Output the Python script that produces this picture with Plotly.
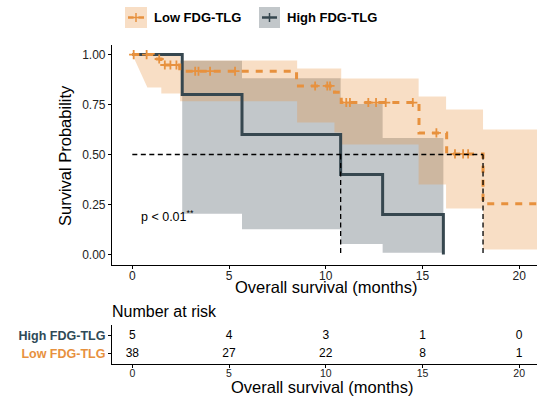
import numpy as np
import plotly.graph_objects as go

# ---------------- data ----------------
low_t = [0.0, 1.08, 1.48, 2.45, 8.49, 10.45, 10.80, 14.82, 16.25, 18.13, 21.0]
low_s = [1.0, 0.978, 0.948, 0.917, 0.843, 0.812, 0.760, 0.608, 0.503, 0.254, 0.254]
low_censor_t = [0.07, 0.74, 1.39, 1.68, 1.97, 2.28, 3.25, 3.42, 4.02, 5.31,
                9.45, 10.08, 10.22, 11.06, 11.25, 12.2, 12.6, 13.1, 14.5,
                15.72, 16.68, 17.1, 17.36]

high_t = [0.0, 2.58, 5.67, 10.77, 12.94, 16.08]
high_s = [1.0, 0.8, 0.6, 0.4, 0.2, 0.0]

low_ci_t = [0.78, 1.50, 2.47, 8.52, 10.45, 10.80, 14.80, 16.22, 18.13]
low_ci_hi = [1.00, 1.00, 0.97, 0.93, 0.93, 0.88, 0.79, 0.725, 0.625]
low_ci_lo = [0.835, 0.805, 0.767, 0.66, 0.61, 0.55, 0.35, 0.23, 0.025]
low_ci_end = 21.0

high_ci_t = [2.58, 5.67, 10.77, 12.94]
high_ci_hi = [0.969, 0.882, 0.753, 0.583]
high_ci_lo = [0.204, 0.126, 0.052, 0.008]
high_ci_end = 16.08

risk_times = [0, 5, 10, 15, 20]
risk_high = [5, 4, 3, 1, 0]
risk_low = [38, 27, 22, 8, 1]
groups = ["Low FDG-TLG", "High FDG-TLG"]
p_text = "p < 0.01<sup>**</sup>"

# ---------------- style ----------------
ORANGE = "#E7913E"
DARK = "#36474F"
FONT = "Liberation Sans, Arial, sans-serif"
W, H = 537, 398
ML, MR, MT, MB = 112, 0, 45, 34


def px_x(px):
    return (px - ML) / (W - ML - MR)


def px_y(py):
    return (H - MB - py) / (H - MT - MB)


def step_poly(t, lo, hi, t_end, start=None):
    xs, ys = [], []
    if start is not None:
        xs.append(start[0]); ys.append(start[1])
    tt = list(t) + [t_end]
    for i in range(len(t)):
        xs += [tt[i], tt[i + 1]]
        ys += [hi[i], hi[i]]
    for i in reversed(range(len(t))):
        xs += [tt[i + 1], tt[i]]
        ys += [lo[i], lo[i]]
    if start is not None:
        xs.append(start[0]); ys.append(start[1])
    return xs, ys


def surv_at(t_arr, s_arr, x):
    idx = np.searchsorted(np.array(t_arr), np.array(x), side="right") - 1
    return [s_arr[i] for i in idx]


def median(t_arr, s_arr):
    for t, s in zip(t_arr, s_arr):
        if s < 0.5:
            return t
    return None


fig = go.Figure()

# CI ribbons (High first, Low on top)
hx, hy = step_poly(high_ci_t, high_ci_lo, high_ci_hi, high_ci_end)
fig.add_trace(go.Scatter(x=hx, y=hy, fill="toself", mode="lines", line=dict(width=0),
                         fillcolor="rgba(54,71,79,0.3)", hoverinfo="skip", showlegend=False))
lx, ly = step_poly(low_ci_t, low_ci_lo, low_ci_hi, low_ci_end, start=(low_t[0], low_s[0]))
fig.add_trace(go.Scatter(x=lx, y=ly, fill="toself", mode="lines", line=dict(width=0),
                         fillcolor="rgba(231,145,62,0.3)", hoverinfo="skip", showlegend=False))

# survival curves
fig.add_trace(go.Scatter(x=high_t, y=high_s, mode="lines", line_shape="hv",
                         line=dict(color=DARK, width=3), showlegend=False))
fig.add_trace(go.Scatter(x=low_t, y=low_s, mode="lines", line_shape="hv",
                         line=dict(color=ORANGE, width=3, dash="7px,7px"), showlegend=False))
fig.add_trace(go.Scatter(x=low_censor_t, y=surv_at(low_t, low_s, low_censor_t), mode="markers",
                         marker=dict(symbol="cross-thin", size=6.5, line=dict(color=ORANGE, width=1.8)),
                         showlegend=False))

# median lines
m_low = median(low_t, low_s)
m_high = median(high_t, high_s)
mline = dict(color="black", width=1.3, dash="5px,3.5px")
fig.add_trace(go.Scatter(x=[0, max(m_low, m_high)], y=[0.5, 0.5], mode="lines", line=mline, showlegend=False))
for m in (m_high, m_low):
    fig.add_trace(go.Scatter(x=[m, m], y=[0.5, 0], mode="lines", line=mline, showlegend=False))

# risk table
fig.add_trace(go.Scatter(x=risk_times, y=[2] * len(risk_times), text=[str(v) for v in risk_high],
                         mode="text", textfont=dict(size=12, color="black", family=FONT),
                         xaxis="x2", yaxis="y2", showlegend=False))
fig.add_trace(go.Scatter(x=risk_times, y=[1] * len(risk_times), text=[str(v) for v in risk_low],
                         mode="text", textfont=dict(size=12, color="black", family=FONT),
                         xaxis="x2", yaxis="y2", showlegend=False))

axis_common = dict(showline=True, linecolor="black", linewidth=1.2, ticks="outside",
                   ticklen=3, tickcolor="black", showgrid=False, zeroline=False, automargin=False)
xr = [-1.05, 20.92]
main_bottom = px_y(265)
risk_top = px_y(325)

fig.update_layout(
    template="none",
    width=W, height=H, margin=dict(l=ML, r=MR, t=MT, b=MB, autoexpand=False),
    plot_bgcolor="white", paper_bgcolor="white",
    font=dict(family=FONT, color="black"),
    xaxis=dict(domain=[0, 1], range=xr, tickvals=risk_times, anchor="y", ticklabelstandoff=-4,
               tickfont=dict(size=12, color="#222"), **axis_common),
    yaxis=dict(domain=[main_bottom, 1], range=[-0.053, 1.048], tickvals=[0, 0.25, 0.5, 0.75, 1.0],
               tickformat=".2f", anchor="x", tickfont=dict(size=12, color="#222"), **axis_common),
    xaxis2=dict(domain=[0, 1], range=xr, tickvals=risk_times, anchor="y2", ticklabelstandoff=-4,
                tickfont=dict(size=10.5, color="#222"), **axis_common),
    yaxis2=dict(domain=[0, risk_top], range=[0.44, 2.61], tickvals=[1, 2], anchor="x2",
                ticktext=[f"<b><span style='color:{ORANGE}'>{groups[0]}</span></b>",
                          f"<b><span style='color:#2F4A57'>{groups[1]}</span></b>"],
                tickfont=dict(size=12.5), **axis_common),
    showlegend=False,
)

ann = [
    dict(x=px_x(326), y=px_y(286.5), text="Overall survival (months)", font=dict(size=16.5)),
    dict(x=px_x(322), y=px_y(386.5), text="Overall survival (months)", font=dict(size=16.5)),
    dict(x=px_x(65), y=px_y(156), text="Survival Probability", font=dict(size=16.5), textangle=-90),
    dict(x=px_x(110), y=px_y(311.5), text="Number at risk", font=dict(size=16), xanchor="left"),
    dict(x=px_x(152), y=px_y(17.5), text=f"<b>{groups[0]}</b>", font=dict(size=13), xanchor="left"),
    dict(x=px_x(285), y=px_y(17.5), text=f"<b>{groups[1]}</b>", font=dict(size=13), xanchor="left"),
]
for a in ann:
    a.setdefault("xanchor", "center")
    fig.add_annotation(xref="paper", yref="paper", showarrow=False, yanchor="middle", **a)

fig.add_annotation(x=0.36, y=0.193, xref="x", yref="y", text=p_text, showarrow=False,
                   xanchor="left", yanchor="middle", font=dict(size=12.5, color="black"))

# legend swatches
def swatch(x0, x1, fill, color, dashed):
    fig.add_shape(type="rect", xref="paper", yref="paper", x0=px_x(x0), x1=px_x(x1),
                  y0=px_y(28), y1=px_y(7), fillcolor=fill, line=dict(width=0), layer="above")
    cx = (x0 + x1) / 2
    if dashed:
        for a, b in ((x0 + 3, cx - 2.5), (cx + 2.5, x1 - 3)):
            fig.add_shape(type="line", xref="paper", yref="paper", x0=px_x(a), x1=px_x(b),
                          y0=px_y(17.5), y1=px_y(17.5), line=dict(color=color, width=2.5), layer="above")
        fig.add_shape(type="line", xref="paper", yref="paper", x0=px_x(cx - 3), x1=px_x(cx + 3),
                      y0=px_y(17.5), y1=px_y(17.5), line=dict(color=color, width=1.5), layer="above")
    else:
        fig.add_shape(type="line", xref="paper", yref="paper", x0=px_x(x0 + 3), x1=px_x(x1 - 3),
                      y0=px_y(17.5), y1=px_y(17.5), line=dict(color=color, width=2.5), layer="above")
    fig.add_shape(type="line", xref="paper", yref="paper", x0=px_x(cx), x1=px_x(cx),
                  y0=px_y(13), y1=px_y(22), line=dict(color=color, width=1.5), layer="above")

swatch(125, 147, "rgba(231,145,62,0.3)", ORANGE, True)
swatch(259, 280, "rgba(54,71,79,0.3)", DARK, False)

fig.write_html("out.html", config={"displayModeBar": False},
               post_script="document.body.style.margin='0px';")
